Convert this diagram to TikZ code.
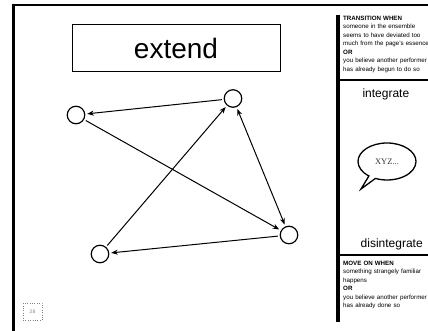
\documentclass[tikz,border=0pt]{standalone}
\usepackage{fontspec}
\setmainfont{Liberation Sans}
\newfontfamily\bubblefont{Liberation Serif}
\usetikzlibrary{positioning}
\usetikzlibrary{arrows.meta}
\usetikzlibrary{shapes, shapes.callouts}
\tikzset{
        % Page frame
        frame_line/.style={line width=2.5pt},
        % Side panel bar and separators
        panel_bar/.style={line width=4pt},
        panel_line/.style={line width=2pt},
        % Title box
        node_title/.style={rectangle, draw=black, line width=1pt, minimum width=208pt, minimum height=47pt, font=\fontsize{28}{30}\selectfont},
        % Performer nodes
        node_player/.style={circle, draw=black, line width=1.2pt, minimum size=17.5pt, inner sep=0pt, outer sep=2.5pt},
        % Connectors
        link/.style={line width=1pt},
        % Instruction text
        node_note/.style={align=left, text width=88pt, inner sep=0pt, anchor=north west, font=\fontsize{6.2}{8.5}\selectfont},
        % Panel words
        node_word/.style={inner sep=0pt, anchor=base west, font=\fontsize{12}{14}\selectfont},
        % Speech bubble
        node_bubble/.style={ellipse callout, draw=black, line width=1.3pt, minimum width=58pt, minimum height=37pt, inner sep=0pt, text=black!80, font=\bubblefont\fontsize{8.5}{10}\selectfont},
        % Page number
        node_page/.style={rectangle, draw=gray, dotted, minimum width=19pt, minimum height=17pt, text=gray, font=\fontsize{5}{6}\selectfont}
}

\begin{document}
\begin{tikzpicture}[x=1pt, y=-1pt, >={Stealth[length=6.5pt, width=5pt, inset=2pt]}]
    \useasboundingbox (0,0) rectangle (428,331);

    % frame and side panel
    \draw[frame_line] (13.5,331) -- (13.5,5) -- (428,5);
    \draw[panel_bar] (338,15) -- (338,322);
    \draw[panel_line] (340,80) -- (428,80);
    \draw[panel_line] (340,255) -- (428,255);

    \node[node_title] (title) at (176,48.5) {extend};

    % performers
    \node[node_player] (left) at (76,115) {};
    \node[node_player] (top) at (233,98.5) {};
    \node[node_player] (right) at (289,235) {};
    \node[node_player] (bottom) at (100,254) {};

    \draw[link, ->] (top) -- (left);
    \draw[link, ->] (left) -- (right);
    \draw[link, ->] (bottom) -- (top);
    \draw[link, <->] (top) -- (right);
    \draw[link, ->] (right) -- (bottom);

    % side panel
    \node[node_note] (transition) at (343,15.6) {\textbf{TRANSITION WHEN}\\
        someone in the ensemble\\ seems to have deviated too\\ much from the page's essence\\
        \textbf{OR}\\ you believe another performer\\ has already begun to do so};
    \node[node_word] (integrate) at (362.3,97.7) {integrate};
    \coordinate (tip) at (361,189);
    \node[node_bubble, callout absolute pointer={(tip)}] (bubble) at (387,161.5) {XYZ...};
    \node[node_word] (disintegrate) at (360.5,247) {disintegrate};
    \node[node_note] (moveon) at (343,260.6) {\textbf{MOVE ON WHEN}\\
        something strangely familiar\\ happens\\
        \textbf{OR}\\ you believe another performer\\ has already done so};

    \node[node_page] (page) at (32.5,311.5) {28};
\end{tikzpicture}
\end{document}
